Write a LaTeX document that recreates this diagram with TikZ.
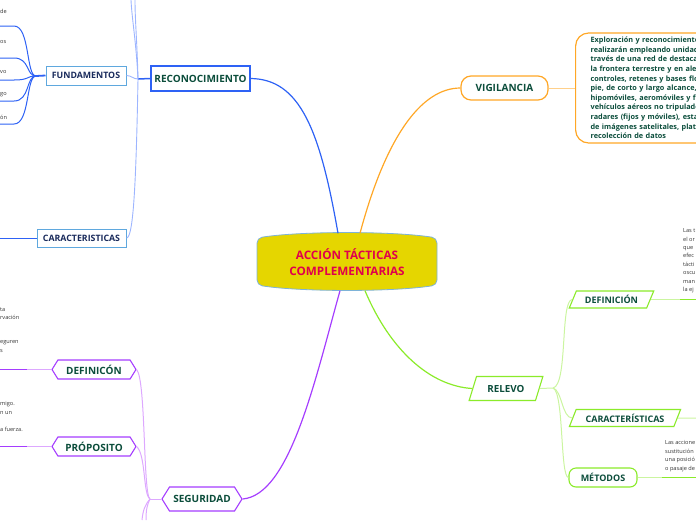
\documentclass[tikz,border=0pt]{standalone}
\usepackage{fontspec}
\setmainfont{Open Sans}
\usetikzlibrary{shapes.geometric,shapes.symbols}

\definecolor{nodetext}{HTML}{0B4D3B}
\definecolor{navytext}{HTML}{1A2B5C}
\definecolor{blueline}{HTML}{2E62F5}
\definecolor{bluelight}{HTML}{9DB5FF}
\definecolor{skyline}{HTML}{5FA8DE}
\definecolor{orangeline}{HTML}{FFA726}
\definecolor{orangelight}{HTML}{FFD08A}
\definecolor{purpleline}{HTML}{A53DFF}
\definecolor{purplelight}{HTML}{DDA8FF}
\definecolor{greenline}{HTML}{8BEB2A}
\definecolor{greenlight}{HTML}{CBF5A0}
\definecolor{mainfill}{HTML}{E5D600}
\definecolor{mainborder}{HTML}{7EB3D8}
\definecolor{maintext}{HTML}{E0004C}
\definecolor{smalltext}{HTML}{333333}

\begin{document}
\begin{tikzpicture}[x=1pt, y=1pt,
	every node/.style={font=\bfseries\fontsize{10}{12}\selectfont, text=nodetext, inner sep=1pt},
	bluebox/.style={draw=blueline, line width=1.1pt, fill=white, minimum width=99pt, minimum height=25pt},
	skybox/.style={draw=skyline, line width=1pt, fill=white, text=navytext, minimum height=19pt, font=\bfseries\fontsize{8.8}{10}\selectfont},
	orangebox/.style={draw=orangeline, line width=1.2pt, fill=white, rounded corners=10pt, minimum width=87pt, minimum height=24pt},
	vigbox/.style={draw=orangeline, line width=1.2pt, rounded corners=13pt, anchor=west, minimum height=110pt, text width=150pt, inner xsep=15pt, align=left, font=\bfseries\fontsize{7.3}{9.6}\selectfont},
	hexbox/.style={draw=purpleline, line width=1.1pt, fill=white, signal, signal to=east and west, signal pointer angle=116, minimum height=19pt, minimum width=84pt},
	slantbox/.style={draw=greenline, line width=1.1pt, fill=white, trapezium, trapezium left angle=62, trapezium right angle=118, trapezium stretches, minimum height=17pt, font=\bfseries\fontsize{9}{11}\selectfont},
	roundbox/.style={draw=greenline, line width=1.1pt, fill=white, rounded corners=7pt, minimum width=68pt, minimum height=19pt, font=\bfseries\fontsize{9}{11}\selectfont},
	note/.style={font=\fontsize{5.6}{8.4}\selectfont, text=smalltext, align=left, anchor=north west, inner sep=0pt}]
\useasboundingbox (0,0) rectangle (696,-520);

\filldraw[fill=mainfill, draw=mainborder, line width=0.8pt, rounded corners=5pt] (257,-238) .. controls (300,-231) and (394,-231) .. (437,-238) -- (437,-285) .. controls (394,-292) and (300,-292) .. (257,-285) -- cycle;
\node[minimum width=180pt, minimum height=57pt, text=maintext, align=center, font=\bfseries\fontsize{11.7}{16}\selectfont] (main) at (347,-262) {ACCIÓN TÁCTICAS\\COMPLEMENTARIAS};

\node[bluebox] (recon) at (200.5,-78.5) {RECONOCIMIENTO};
\node[skybox, minimum width=80pt] (fund) at (86,-75.5) {FUNDAMENTOS};
\node[skybox, minimum width=89pt, minimum height=18pt] (carac) at (81.5,-238) {CARACTERISTICAS};
\node[orangebox] (vig) at (504.5,-88) {VIGILANCIA};
\node[vigbox] (vigdesc) at (575,-88) {Exploración y reconocimiento s\\realizarán empleando unidades\\través de una red de destacam\\la frontera terrestre y en alerta\\controles, retenes y bases flota\\pie, de corto y largo alcance, m\\hipomóviles, aeromóviles y flu\\vehículos aéreos no tripulados\\radares (fijos y móviles), estac\\de imágenes satelitales, plataf\\recolección de datos};
\node[hexbox, minimum width=80pt, minimum height=24pt] (segur) at (202,-499) {SEGURIDAD};
\node[hexbox] (defseg) at (94,-369.5) {DEFINICÓN};
\node[hexbox] (prop) at (94,-446.5) {PRÓPOSITO};
\node[slantbox, minimum width=74pt, minimum height=24pt, font=\bfseries\fontsize{9.8}{12}\selectfont] (relevo) at (506,-388.5) {RELEVO};
\node[slantbox, minimum width=85pt] (defrel) at (611.5,-299.5) {DEFINICIÓN};
\node[slantbox, minimum width=112pt] (caracrel) at (625,-418) {CARACTERÍSTICAS};
\node[roundbox] (metod) at (603,-477.5) {MÉTODOS};

\coordinate (reconJ) at (138,-79);
\coordinate (reconUpA) at (131,0);
\coordinate (reconUpB) at (135,0);
\coordinate (fundJ) at (36,-76);
\coordinate (caracEnd) at (0,-238);
\coordinate (segJ) at (150,-499);
\coordinate (segDownA) at (142,-520);
\coordinate (segDownB) at (146,-520);
\coordinate (relJ) at (553,-388);

\draw[blueline, line width=1.2pt] ([xshift=-9pt]main.north) .. controls (320,-130) and (300,-79) .. (recon.east);
\draw[orangeline, line width=1.2pt] ([xshift=13pt]main.north) .. controls (385,-140) and (420,-88) .. (vig.west);
\draw[purpleline, line width=1.2pt] ([xshift=-7pt]main.south) .. controls (315,-380) and (290,-495) .. (segur.east);
\draw[greenline, line width=1.2pt] ([xshift=18pt]main.south) .. controls (390,-350) and (430,-386) .. (relevo.west);

\draw[blueline, line width=1.5pt] (recon.west) -- (reconJ);
\draw[bluelight, line width=0.9pt] (reconJ) to[out=180, in=0] (fund.east);
\draw[bluelight, line width=0.9pt] (reconJ) .. controls (136,-40) and (132,-20) .. (reconUpA);
\draw[bluelight, line width=0.9pt] (reconJ) .. controls (137,-40) and (135,-20) .. (reconUpB);
\draw[bluelight, line width=0.9pt] (reconJ) .. controls (136,-190) and (133,-238) .. (carac.east);
\draw[blueline, line width=1pt] (carac.west) -- (caracEnd);
\draw[blueline, line width=1.8pt] (fund.west) -- (fundJ);
\foreach \y [count=\i] in {26,58,80,101,124} {
	\coordinate (fundEnd\i) at (0,-\y);
	\draw[blueline, line width=1pt] (fundJ) .. controls (26,-76) and (30,-\y) .. (14,-\y) -- (fundEnd\i);
}
\foreach \y/\t [count=\i] in {11/de,42/os,72/vo,95/go,117/ón}
	\node[note, anchor=west] (fundtxt\i) at (0,-\y) {\t};

\draw[orangelight, line width=1pt] (vig.east) -- (vigdesc.west);

\draw[purplelight, line width=1pt] (segur.west) -- (segJ);
\draw[purplelight, line width=1pt] (segJ) .. controls (143,-495) and (146,-380) .. (defseg.east);
\draw[purplelight, line width=1pt] (segJ) .. controls (143,-495) and (146,-455) .. (prop.east);
\draw[purplelight, line width=1pt] (segJ) .. controls (145,-505) and (143,-510) .. (segDownA);
\draw[purplelight, line width=1pt] (segJ) .. controls (147,-505) and (146,-510) .. (segDownB);
\foreach \n/\y in {defseg/369.5,prop/446.5} {
	\coordinate (\n Mid) at (27,-\y);
	\coordinate (\n End) at (0,-\y);
	\draw[purplelight, line width=1pt] (\n.west) -- (\n Mid);
	\draw[purpleline, line width=1.8pt] (\n Mid) -- (\n End);
}
\foreach \y/\t [count=\i] in {307.5/{ta\\rvación},340.5/{eguren\\s},401.5/{migo.\\n un},427.5/{a fuerza.}}
	\node[note] (segtxt\i) at (0,-\y) {\t};

\draw[greenlight, line width=1pt] (relevo.east) -- (relJ);
\draw[greenlight, line width=1pt] (relJ) .. controls (568,-385) and (560,-300) .. (defrel.west);
\draw[greenlight, line width=1pt] (relJ) .. controls (562,-390) and (562,-418) .. (caracrel.west);
\draw[greenlight, line width=1pt] (relJ) .. controls (564,-392) and (560,-477) .. (metod.west);
\coordinate (caracrelEnd) at (696,-418);
\draw[greenlight, line width=1pt] (caracrel.east) -- (caracrelEnd);
\foreach \n/\x/\y in {defrel/680/299.5,metod/662/477.5} {
	\coordinate (\n Mid) at (\x,-\y);
	\coordinate (\n End) at (696,-\y);
	\draw[greenlight, line width=1pt] (\n.east) -- (\n Mid);
	\draw[greenline, line width=1.8pt] (\n Mid) -- (\n End);
}
\node[note] (defreltxt) at (683,-228.5) {Las t\\el or\\que\\efec\\tácti\\oscu\\man\\la ej};
\node[note] (metodtxt) at (665,-440.5) {Las accione\\sustitución\\una posició\\o pasaje de};
\end{tikzpicture}
\end{document}
